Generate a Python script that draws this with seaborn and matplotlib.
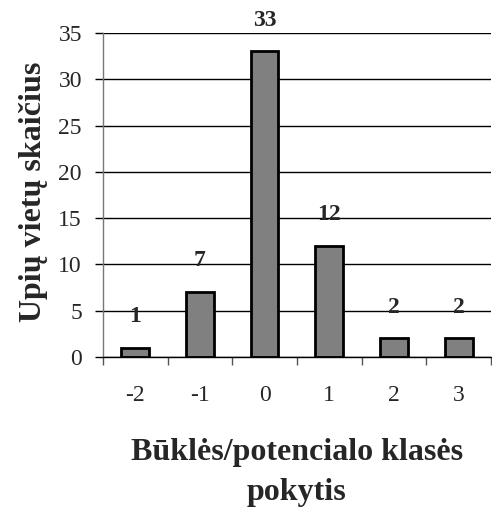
import matplotlib
matplotlib.use("Agg")
import matplotlib.pyplot as plt
import numpy as np
import pandas as pd
import seaborn as sns

# data
categories = ["-2", "-1", "0", "1", "2", "3"]
counts = [1, 7, 33, 12, 2, 2]
y_ticks = [0, 5, 10, 15, 20, 25, 30, 35]

x_title = "Būklės/potencialo klasės\npokytis"
y_title = "Upių vietų skaičius"

df = pd.DataFrame({"change": categories, "count": counts})

sns.set_style("white")
plt.rcParams["font.family"] = ["Liberation Serif", "DejaVu Serif"]

fig = plt.figure(figsize=(4.92, 5.07), dpi=100)
ax = fig.add_axes([0.209, 0.296, 0.789, 0.639])

sns.barplot(
    data=df, x="change", y="count", order=categories, color="#808080",
    edgecolor="black", linewidth=2, width=0.43, saturation=1, ax=ax,
)

# bar value labels
for patch, value in zip(ax.patches, counts):
    ax.annotate(
        str(value),
        (patch.get_x() + patch.get_width() / 2, patch.get_height()),
        xytext=(0, 15), textcoords="offset points",
        ha="center", va="bottom", fontsize=17, fontweight="bold",
    )

ax.set_ylim(0, 35)
ax.set_xlim(-0.5, len(categories) - 0.5)
ax.set_yticks(y_ticks)
ax.yaxis.grid(True, color="black", linewidth=1)
ax.set_axisbelow(True)

# tick marks between categories
ax.set_xticks(np.arange(-0.5, len(categories)), minor=True)
ax.tick_params(axis="x", which="major", length=0, pad=20, labelsize=17)
ax.tick_params(axis="x", which="minor", length=6, width=1, color="#555555", direction="out")
ax.tick_params(axis="y", length=6, width=1, color="black", direction="out", pad=9, labelsize=17)
ax.xaxis.set_ticks_position("bottom")
ax.yaxis.set_ticks_position("left")

for side in ["top", "right"]:
    ax.spines[side].set_visible(False)
ax.spines["left"].set_color("#777777")
ax.spines["left"].set_linewidth(1)
ax.spines["bottom"].set_color("black")
ax.spines["bottom"].set_linewidth(1)

ax.set_xlabel(x_title, fontsize=23, fontweight="bold", linespacing=1.5)
ax.xaxis.set_label_coords(0.5, -0.25)
ax.set_ylabel(y_title, fontsize=23, fontweight="bold")
ax.yaxis.set_label_coords(-0.14, 0.51)

fig.savefig("out.png", dpi=100)
